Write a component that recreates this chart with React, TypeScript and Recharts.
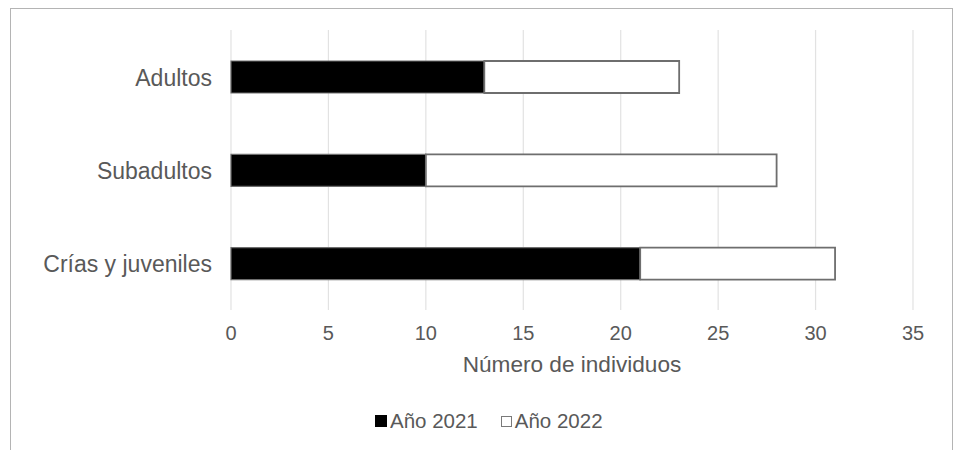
import React from 'react';
import { BarChart, Bar, XAxis, YAxis, CartesianGrid, Legend } from 'recharts';

const categories = ['Adultos', 'Subadultos', 'Crías y juveniles'];
const year2021 = [13, 10, 21];
const year2022 = [10, 18, 10];
const xTicks = [0, 5, 10, 15, 20, 25, 30, 35];

const chartData = categories.map((name, i) => ({
  name,
  y2021: year2021[i],
  y2022: year2022[i],
}));

const FONT = '"Liberation Sans", Arial, sans-serif';
const TEXT = '#595959';

function LegendBox() {
  return (
    <div
      style={{
        position: 'absolute',
        left: 375,
        top: 409,
        display: 'flex',
        alignItems: 'center',
        fontFamily: FONT,
        fontSize: 20.5,
        color: TEXT,
        whiteSpace: 'nowrap',
      }}
    >
      <span style={{ width: 12, height: 12, background: '#000', display: 'inline-block', marginRight: 3 }} />
      <span>Año 2021</span>
      <span
        style={{
          width: 9,
          height: 9,
          border: '1.5px solid #7a7a7a',
          background: '#fff',
          display: 'inline-block',
          marginLeft: 23,
          marginRight: 3,
        }}
      />
      <span>Año 2022</span>
    </div>
  );
}

export default function App() {
  return (
    <div style={{ position: 'fixed', left: 0, top: 0, width: 953, height: 450, overflow: 'hidden', background: '#fff' }}>
      <div
        style={{
          position: 'absolute',
          left: 10,
          top: 8,
          width: 941,
          height: 460,
          border: '1.5px solid #b4b4b4',
        }}
      />
      <div style={{ position: 'absolute', left: 0, top: 0 }}>
        <BarChart
          width={953}
          height={450}
          data={chartData}
          layout="vertical"
          margin={{ top: 30, right: 40, left: 0, bottom: 70 }}
          barSize={32}
        >
          <CartesianGrid horizontal={false} stroke="#e2e2e2" strokeWidth={1.2} />
          <XAxis
            type="number"
            domain={[0, 35]}
            ticks={xTicks}
            axisLine={false}
            tickLine={false}
            tickSize={0}
            tickMargin={16}
            height={70}
            tick={{ fill: TEXT, fontSize: 20, fontFamily: FONT }}
            label={{
              value: 'Número de individuos',
              position: 'insideBottom',
              offset: 8,
              fill: TEXT,
              fontSize: 22.6,
              fontFamily: FONT,
            }}
          />
          <YAxis
            type="category"
            dataKey="name"
            width={231}
            axisLine={false}
            tickLine={false}
            tickSize={0}
            tickMargin={19}
            tick={{ fill: TEXT, fontSize: 23, fontFamily: FONT, dy: 1 }}
          />
          <Legend content={() => <LegendBox />} wrapperStyle={{ position: 'absolute', left: 0, top: 0, width: 0, height: 0 }} />
          <Bar dataKey="y2021" name="Año 2021" stackId="a" fill="#000000" stroke="#6e6e6e" strokeWidth={1.2} isAnimationActive={false} />
          <Bar dataKey="y2022" name="Año 2022" stackId="a" fill="#ffffff" stroke="#6e6e6e" strokeWidth={1.8} isAnimationActive={false} />
        </BarChart>
      </div>
    </div>
  );
}
